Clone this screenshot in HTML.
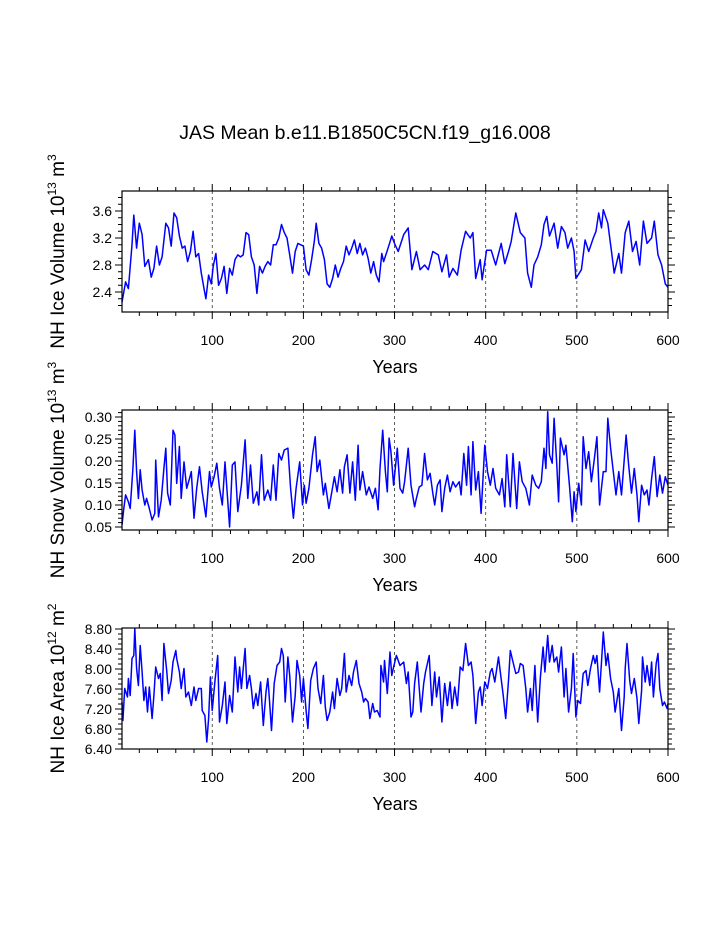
<!DOCTYPE html>
<html><head><meta charset="utf-8"><style>
body{margin:0;background:#fff}
svg{display:block;font-family:"Liberation Sans",sans-serif}
</style></head><body>
<svg id="c" width="723" height="935">
<text x="365" y="139" text-anchor="middle" font-size="19.5">JAS Mean b.e11.B1850C5CN.f19_g16.008</text>
</svg>
<script>
const iceVolYears=[0,5,8,12,14,17,20,23,26,30,33,36,39,42,45,49,52,55,58,61,64,67,70,73,76,79,82,85,88,91,93,96,99,101,104,107,110,113,116,119,122,125,128,131,134,137,140,143,146,149,152,155,158,161,164,167,170,173,176,179,182,185,188,191,194,197,200,203,206,209,212,214,217,220,223,226,229,232,235,238,241,244,247,250,253,256,259,262,265,268,271,274,277,280,283,286,288,291,294,297,300,304,310,315,319,324,328,333,337,342,348,352,357,360,364,369,373,378,383,386,389,394,396,401,406,411,417,421,425,428,433,438,443,446,450,453,457,461,464,467,470,475,479,483,487,490,494,497,499,505,509,513,518,521,524,527,529,534,538,541,546,549,553,557,561,565,569,573,577,582,585,589,593,597,600];
const iceVolValues=[2.25,2.55,2.45,3.1,3.54,3.05,3.42,3.25,2.78,2.88,2.62,2.75,3.08,2.8,2.92,3.42,3.35,3.08,3.57,3.5,3.23,3.05,3.08,2.85,3.0,3.3,2.92,2.97,2.68,2.45,2.3,2.65,2.52,2.78,2.97,2.5,2.6,2.78,2.38,2.75,2.65,2.88,2.95,2.92,2.95,3.28,3.25,2.92,2.8,2.38,2.78,2.68,2.78,2.85,2.8,3.1,3.1,3.2,3.4,3.28,3.2,2.95,2.68,3.0,3.12,3.1,3.08,2.73,2.65,2.88,3.15,3.42,3.12,3.05,2.88,2.52,2.47,2.6,2.8,2.62,2.75,2.85,3.08,2.95,3.05,3.17,2.97,3.12,2.95,3.05,2.9,2.68,2.85,2.65,2.55,2.97,2.85,2.97,3.1,3.23,3.12,3.0,3.25,3.35,2.73,3.0,2.73,2.8,2.73,3.0,2.95,2.7,2.95,2.62,2.75,2.65,3.02,3.3,3.2,3.28,2.6,2.88,2.58,3.02,3.02,2.8,3.12,2.82,3.0,3.15,3.57,3.28,3.2,2.68,2.47,2.8,2.92,3.1,3.4,3.52,3.23,3.42,3.05,3.37,3.28,3.05,3.2,3.0,2.6,2.73,3.17,3.0,3.2,3.3,3.57,3.35,3.62,3.42,3.0,2.68,2.97,2.68,3.28,3.45,3.0,3.15,2.8,3.45,3.12,3.2,3.45,2.95,2.8,2.52,2.47];
const iceVolTicks=[2.4,2.8,3.2,3.6];
const iceVolTickLabels=["2.4","2.8","3.2","3.6"];

const snowYears=[0,3,5,8,10,13,15,17,19,21,23,26,28,31,34,37,38,41,44,47,49,51,54,57,59,61,64,66,69,72,75,77,80,83,86,89,93,97,99,102,105,108,111,114,119,122,125,128,132,136,139,142,145,149,151,154,157,161,164,167,170,173,176,179,183,186,189,192,196,199,201,203,206,210,213,215,218,222,224,228,231,234,237,240,243,245,248,251,254,257,260,262,265,269,272,276,279,282,284,287,290,292,294,296,299,303,306,309,311,315,318,322,324,327,330,333,336,339,342,344,347,350,352,355,358,361,364,367,371,373,376,379,381,384,386,389,392,395,399,402,405,408,411,415,418,421,423,427,430,434,437,440,444,448,451,455,458,461,464,466,468,470,473,475,478,480,482,486,488,492,495,497,499,502,505,507,510,513,516,519,522,525,529,532,534,537,540,543,546,549,552,554,557,560,563,566,568,571,574,577,579,582,585,588,591,594,597,600];
const snowValues=[0.055,0.092,0.123,0.107,0.092,0.183,0.27,0.176,0.115,0.18,0.134,0.1,0.115,0.092,0.066,0.081,0.202,0.073,0.111,0.183,0.229,0.127,0.1,0.27,0.259,0.149,0.233,0.115,0.198,0.138,0.16,0.176,0.07,0.138,0.187,0.13,0.073,0.176,0.141,0.164,0.195,0.138,0.1,0.198,0.05,0.191,0.198,0.085,0.145,0.248,0.115,0.191,0.104,0.13,0.1,0.214,0.111,0.134,0.111,0.191,0.111,0.217,0.202,0.225,0.229,0.138,0.07,0.138,0.198,0.1,0.145,0.104,0.138,0.214,0.255,0.176,0.202,0.123,0.149,0.092,0.127,0.164,0.13,0.18,0.127,0.187,0.214,0.127,0.198,0.111,0.236,0.134,0.176,0.123,0.141,0.115,0.138,0.089,0.183,0.27,0.176,0.13,0.252,0.222,0.145,0.229,0.138,0.127,0.153,0.229,0.145,0.096,0.115,0.141,0.145,0.217,0.157,0.172,0.127,0.1,0.145,0.157,0.085,0.138,0.168,0.13,0.153,0.141,0.153,0.123,0.217,0.145,0.233,0.123,0.244,0.134,0.176,0.081,0.236,0.176,0.145,0.183,0.138,0.123,0.16,0.096,0.214,0.096,0.217,0.092,0.198,0.153,0.138,0.1,0.168,0.145,0.138,0.153,0.229,0.183,0.312,0.214,0.195,0.297,0.191,0.107,0.252,0.214,0.236,0.141,0.062,0.13,0.085,0.149,0.1,0.255,0.183,0.221,0.153,0.202,0.255,0.1,0.176,0.176,0.297,0.229,0.176,0.123,0.176,0.123,0.202,0.259,0.187,0.127,0.183,0.123,0.062,0.145,0.123,0.134,0.1,0.16,0.21,0.119,0.168,0.127,0.164,0.145];
const snowTicks=[0.05,0.10,0.15,0.20,0.25,0.30];
const snowTickLabels=["0.05","0.10","0.15","0.20","0.25","0.30"];

const areaYears=[0,2,4,7,8,10,12,14,15,17,19,21,23,25,27,29,31,34,36,38,41,43,45,47,50,52,55,57,60,61,64,66,69,71,74,77,80,82,85,88,89,92,94,96,98,100,103,106,108,111,114,116,119,122,125,128,130,132,136,138,141,143,145,148,150,153,156,159,161,162,165,168,171,174,176,178,180,183,185,188,191,193,196,198,200,203,205,208,211,214,216,219,222,224,226,229,232,234,237,240,242,245,247,250,253,255,258,261,264,266,268,271,273,276,278,281,284,285,288,289,292,295,297,299,302,306,310,313,315,318,320,322,325,329,332,334,338,341,344,346,349,352,355,358,361,363,366,369,372,375,378,381,384,386,389,392,394,396,399,402,405,407,410,414,416,419,422,425,427,430,433,436,438,441,444,446,449,451,454,457,460,463,465,468,470,473,475,478,480,483,486,488,491,494,496,499,501,504,507,510,512,515,518,520,522,525,527,529,532,534,537,540,542,546,549,552,553,555,558,560,563,566,568,571,572,575,577,580,582,584,587,589,591,594,596,599,600];
const areaValues=[7.34,6.97,7.61,7.44,7.81,7.47,8.21,8.27,8.81,8.01,7.67,8.47,7.94,7.37,7.64,7.14,7.64,7.01,7.47,8.04,7.81,7.91,7.37,8.51,7.97,7.51,7.77,8.14,8.37,8.21,7.94,7.61,8.01,7.44,7.54,7.27,7.64,7.37,7.61,7.61,7.17,7.07,6.54,7.01,7.84,7.17,7.77,8.27,6.94,7.27,7.74,6.91,7.47,7.14,8.24,7.54,8.04,7.61,8.41,7.61,7.87,7.61,7.21,7.51,7.27,7.74,6.87,7.54,7.81,7.57,6.77,7.71,8.07,8.14,8.41,8.27,7.34,8.24,7.87,6.94,7.47,8.17,7.87,7.34,7.81,7.17,6.81,7.77,8.01,8.14,7.61,7.31,7.87,7.24,6.97,7.14,7.54,7.21,7.81,7.47,7.61,8.31,7.54,7.87,7.67,7.94,8.17,7.71,7.54,7.34,7.41,7.34,7.01,7.31,7.14,7.17,7.04,8.07,7.74,8.17,7.51,8.34,7.87,8.04,8.27,8.07,8.14,7.71,7.94,7.04,7.14,7.71,8.14,7.14,7.71,7.94,8.27,7.27,7.94,7.44,7.84,6.94,7.71,7.27,7.74,7.21,7.64,7.27,8.04,7.97,8.51,8.07,8.14,7.87,6.91,7.54,7.64,7.27,7.74,7.61,7.94,8.01,7.74,8.24,7.94,7.51,7.01,7.77,8.37,8.14,7.91,7.94,8.11,8.07,7.61,7.14,7.61,7.17,8.07,6.94,7.84,8.44,7.94,8.67,8.14,8.47,8.14,8.24,7.94,8.44,7.44,8.01,7.14,7.61,8.31,7.04,7.37,7.31,7.91,7.97,7.67,8.01,8.27,8.11,8.27,7.54,8.14,8.74,8.07,8.31,7.81,7.54,7.14,7.61,6.77,7.44,8.01,8.51,7.77,7.51,7.81,7.41,6.91,7.57,8.24,7.74,8.07,7.67,8.14,7.44,8.11,8.31,7.61,7.27,7.34,7.21,7.31];
const areaTicks=[6.4,6.8,7.2,7.6,8.0,8.4,8.8];
const areaTickLabels=["6.40","6.80","7.20","7.60","8.00","8.40","8.80"];

const xTicks=[100,200,300,400,500,600];
const xTickLabels=["100","200","300","400","500","600"];

const NS='http://www.w3.org/2000/svg';
const svg=document.getElementById('c');
function mk(tag,attrs,parent){const e=document.createElementNS(NS,tag);for(const k in attrs)e.setAttribute(k,attrs[k]);(parent||svg).appendChild(e);return e;}

const X0=122,X1=668;
function xs(t){return X0+(t-1)/599*(X1-X0);}

function panel(id,top,bot,vmin,vmax,years,vals,ticks,labels,minorStep,titleParts){
  const g=mk('g',{});
  
  
  const ys=v=>bot-(v-vmin)/(vmax-vmin)*(bot-top);
  for(let i=0;i<xTicks.length-1;i++){
    const l=mk('line',{x1:xs(xTicks[i]),x2:xs(xTicks[i]),y1:top,y2:bot,stroke:'#333','stroke-width':0.8,'stroke-dasharray':'3,3'},g);
    
    
  }
  let d='';
  for(let i=0;i<years.length;i++){d+=(i?'L':'M')+xs(Math.max(years[i],1)).toFixed(1)+','+ys(vals[i]).toFixed(1);}
  const p=mk('path',{d:d,fill:'none',stroke:'#0000ff','stroke-width':1.5,'stroke-linejoin':'round'},g);
  
  
  const r=mk('rect',{x:X0,y:top,width:X1-X0,height:bot-top,fill:'none',stroke:'#000','stroke-width':1.2},g);
  
  
  for(let t=20;t<=600;t+=20){
    const major=t%100===0, len=major?7:4, x=xs(t);
    mk('line',{x1:x,x2:x,y1:top,y2:top-len,stroke:'#000','stroke-width':1},g);
    mk('line',{x1:x,x2:x,y1:bot,y2:bot+len,stroke:'#000','stroke-width':1},g);
  }
  xTicks.forEach((t,i)=>{
    const tx=mk('text',{x:xs(t),y:bot+33,'text-anchor':'middle','font-size':14},g);
    tx.textContent=xTickLabels[i];
    
    
  });
  const xt=mk('text',{x:395,y:bot+61,'text-anchor':'middle','font-size':18},g);
  xt.textContent='Years';
  
  
  const start=Math.ceil(vmin/minorStep-1e-6);
  for(let k=start;k*minorStep<=vmax+1e-9;k++){
    const v=k*minorStep, y=ys(v);
    const major=ticks.some(tt=>Math.abs(tt-v)<1e-6), len=major?7:4;
    mk('line',{x1:X0,x2:X0-len,y1:y,y2:y,stroke:'#000','stroke-width':1},g);
    mk('line',{x1:X1,x2:X1+len,y1:y,y2:y,stroke:'#000','stroke-width':1},g);
  }
  ticks.forEach((v,i)=>{
    const tx=mk('text',{x:X0-10,y:ys(v)+5,'text-anchor':'end','font-size':14},g);
    tx.textContent=labels[i];
    
    
  });
  const cy=(top+bot)/2;
  const yt=mk('text',{x:0,y:0,'text-anchor':'middle','font-size':19,transform:'translate(64,'+cy+') rotate(-90)'},g);
  
  
  const a=mk('tspan',{},yt);a.textContent=titleParts[0]+' 10';
  const b=mk('tspan',{'font-size':12,dy:-8},yt);b.textContent=titleParts[1];
  const c=mk('tspan',{dy:8},yt);c.textContent=' '+titleParts[2];
  const d2=mk('tspan',{'font-size':12,dy:-8},yt);d2.textContent=titleParts[3];
}
panel('ice-volume',191,312,3.6-(312-211)*0.4/27,3.6+(211-191)*0.4/27,iceVolYears,iceVolValues,iceVolTicks,iceVolTickLabels,0.1,['NH Ice Volume','13','m','3']);
panel('snow-volume',410,530,0.30-(530-417)*0.05/22,0.30+(417-410)*0.05/22,snowYears,snowValues,snowTicks,snowTickLabels,0.01,['NH Snow Volume','13','m','3']);
panel('ice-area',628,749,6.4,8.8+(629-628)*0.02,areaYears,areaValues,areaTicks,areaTickLabels,0.1,['NH Ice Area','12','m','2']);
</script>
</body></html>
